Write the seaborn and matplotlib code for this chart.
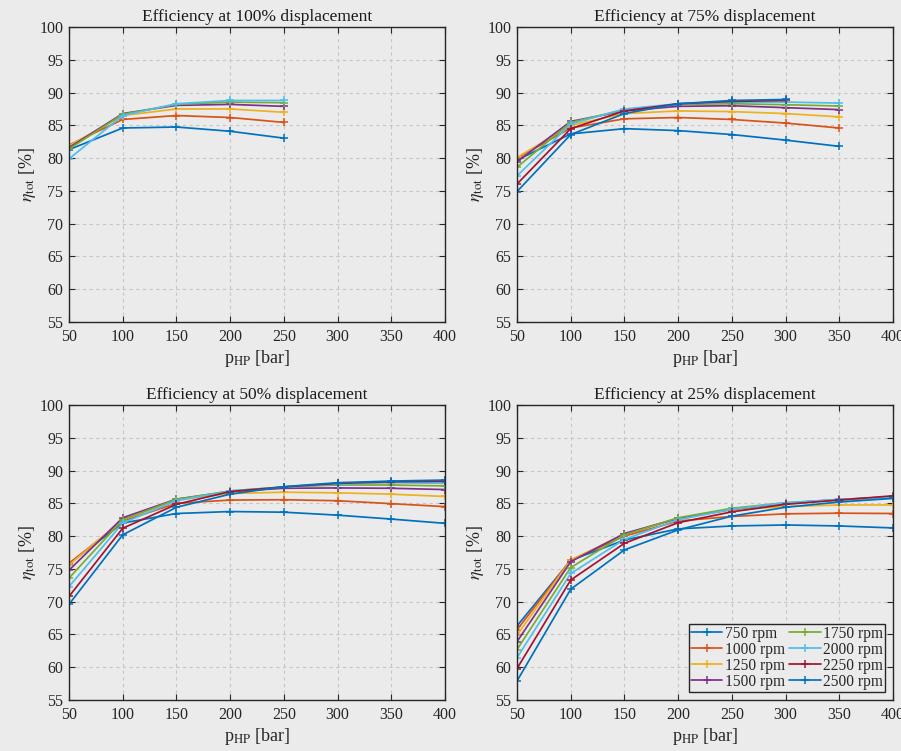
import numpy as np
import pandas as pd
import matplotlib
matplotlib.use("Agg")
import matplotlib.pyplot as plt
import seaborn as sns

# Pump speeds and pressure grid
speeds = [750, 1000, 1250, 1500, 1750, 2000, 2250, 2500]
pressures = [50, 100, 150, 200, 250, 300, 350, 400]

# Total efficiency [%] per speed, one dict per displacement setting
eff_100 = {
    750:  [81.3, 84.6, 84.75, 84.1, 83.05],
    1000: [82.0, 85.9, 86.5, 86.2, 85.45],
    1250: [81.9, 86.5, 87.5, 87.5, 87.0],
    1500: [81.6, 86.8, 88.05, 88.2, 87.9],
    1750: [81.4, 86.7, 88.2, 88.55, 88.45],
    2000: [79.9, 86.5, 88.3, 88.8, 88.8],
}
eff_75 = {
    750:  [79.7, 83.7, 84.5, 84.2, 83.6, 82.75, 81.8],
    1000: [80.0, 84.6, 86.0, 86.2, 85.9, 85.35, 84.6],
    1250: [80.1, 85.0, 86.8, 87.2, 87.1, 86.8, 86.3],
    1500: [79.45, 85.6, 87.2, 87.9, 88.0, 87.7, 87.4],
    1750: [78.6, 85.45, 87.4, 88.2, 88.3, 88.15, 87.95],
    2000: [77.3, 85.2, 87.5, 88.3, 88.55, 88.55, 88.4],
    2250: [76.05, 84.5, 87.2, 88.3, 88.65, 88.8],
    2500: [74.9, 83.6, 86.8, 88.3, 88.8, 88.95],
}
eff_50 = {
    750:  [75.8, 82.0, 83.45, 83.75, 83.65, 83.2, 82.6, 81.95],
    1000: [75.85, 82.3, 85.0, 85.5, 85.55, 85.4, 84.95, 84.5],
    1250: [75.6, 82.5, 85.5, 86.5, 86.7, 86.6, 86.4, 86.05],
    1500: [74.8, 82.8, 85.65, 86.8, 87.3, 87.35, 87.3, 87.1],
    1750: [73.6, 82.5, 85.6, 86.9, 87.5, 87.8, 87.8, 87.65],
    2000: [72.3, 82.0, 85.4, 86.9, 87.5, 87.95, 88.15, 88.05],
    2250: [70.8, 81.2, 84.85, 86.8, 87.5, 88.05, 88.3, 88.35],
    2500: [69.6, 80.2, 84.4, 86.4, 87.55, 88.15, 88.4, 88.55],
}
eff_25 = {
    750:  [66.3, 76.3, 79.4, 81.1, 81.55, 81.7, 81.55, 81.25],
    1000: [65.7, 76.35, 80.0, 82.3, 83.0, 83.4, 83.5, 83.45],
    1250: [64.9, 76.35, 80.3, 82.7, 84.0, 84.5, 84.75, 84.75],
    1500: [63.9, 76.1, 80.4, 82.7, 84.1, 85.0, 85.6, 86.0],
    1750: [62.7, 75.2, 80.2, 82.8, 84.25, 85.1, 85.5, 85.9],
    2000: [61.45, 74.3, 79.5, 82.5, 84.1, 85.1, 85.6, 85.9],
    2250: [59.8, 73.3, 78.9, 82.05, 83.7, 84.85, 85.5, 86.15],
    2500: [57.9, 71.9, 77.9, 80.95, 83.05, 84.4, 85.2, 85.75],
}

panels = [
    ("Efficiency at 100% displacement", eff_100),
    ("Efficiency at 75% displacement", eff_75),
    ("Efficiency at 50% displacement", eff_50),
    ("Efficiency at 25% displacement", eff_25),
]

# MATLAB-style colour order (8th series wraps back to the first colour)
colors = ["#0072BD", "#D95319", "#EDB120", "#7E2F8E",
          "#77AC30", "#4DBEEE", "#A2142F", "#0072BD"]
labels = [f"{s} rpm" for s in speeds]
palette = dict(zip(labels, colors))

bg = "#ebebeb"
ink = "#262626"
sns.set_theme(style="ticks")
plt.rcParams["font.family"] = ["Liberation Serif", "DejaVu Serif"]
plt.rcParams["mathtext.fontset"] = "stix"
plt.rcParams["axes.facecolor"] = bg
plt.rcParams["figure.facecolor"] = bg

fig = plt.figure(figsize=(9.01, 7.51), dpi=100)
lefts = [0.0766, 0.5738]
bottoms = [0.5712, 0.0679]
w, h = 0.4173, 0.3928

for i, (title, eff) in enumerate(panels):
    ax = fig.add_axes([lefts[i % 2], bottoms[i // 2], w, h])
    rows = []
    for s in speeds:
        if s not in eff:
            continue
        for p, v in zip(pressures, eff[s]):
            rows.append({"p": p, "eta": v, "speed": f"{s} rpm"})
    df = pd.DataFrame(rows)
    sns.lineplot(data=df, x="p", y="eta", hue="speed", palette=palette,
                 hue_order=[l for l in labels if l in set(df["speed"])],
                 marker="+", markersize=6, markeredgewidth=1.1,
                 linewidth=1.25, errorbar=None, sort=False, ax=ax,
                 legend=(i == 3))
    # '+' markers take the line colour
    for ln in ax.lines:
        ln.set_markeredgecolor(ln.get_color())
    ax.set_xlim(50, 400)
    ax.set_ylim(55, 100)
    ax.set_xticks(np.arange(50, 401, 50))
    ax.set_yticks(np.arange(55, 101, 5))
    ax.grid(True, linestyle=(0, (3, 3)), color="#c6c6c6", linewidth=0.8)
    ax.set_axisbelow(True)
    for sp in ax.spines.values():
        sp.set_color(ink)
        sp.set_linewidth(1.0)
        sp.set_visible(True)
    ax.tick_params(direction="in", length=4, width=0.8, color=ink,
                   labelsize=11.5, labelcolor=ink,
                   top=True, right=True, pad=5)
    ax.tick_params(axis="y", pad=4)
    ax.set_title(title, fontsize=12.5, color="#1a1a1a", pad=4)
    ax.set_xlabel(r"p$_{\rm HP}$ [bar]", fontsize=13, color=ink, labelpad=2)
    ax.set_ylabel(r"$\eta_{\rm tot}$ [%]", fontsize=13, color=ink, labelpad=1)
    if i == 3:
        leg = ax.legend(title=None, ncol=2, loc="lower right", fontsize=11.2,
                        frameon=True, fancybox=False, framealpha=1,
                        facecolor=bg, edgecolor=ink,
                        borderpad=0.15, handlelength=2.0, handletextpad=0.15,
                        columnspacing=0.3, labelspacing=0.0,
                        borderaxespad=0.5)
        leg.get_frame().set_linewidth(1.0)
        for hd in leg.legend_handles:
            hd.set_markeredgecolor(hd.get_color())

fig.savefig("out.png", dpi=100, facecolor=bg)
